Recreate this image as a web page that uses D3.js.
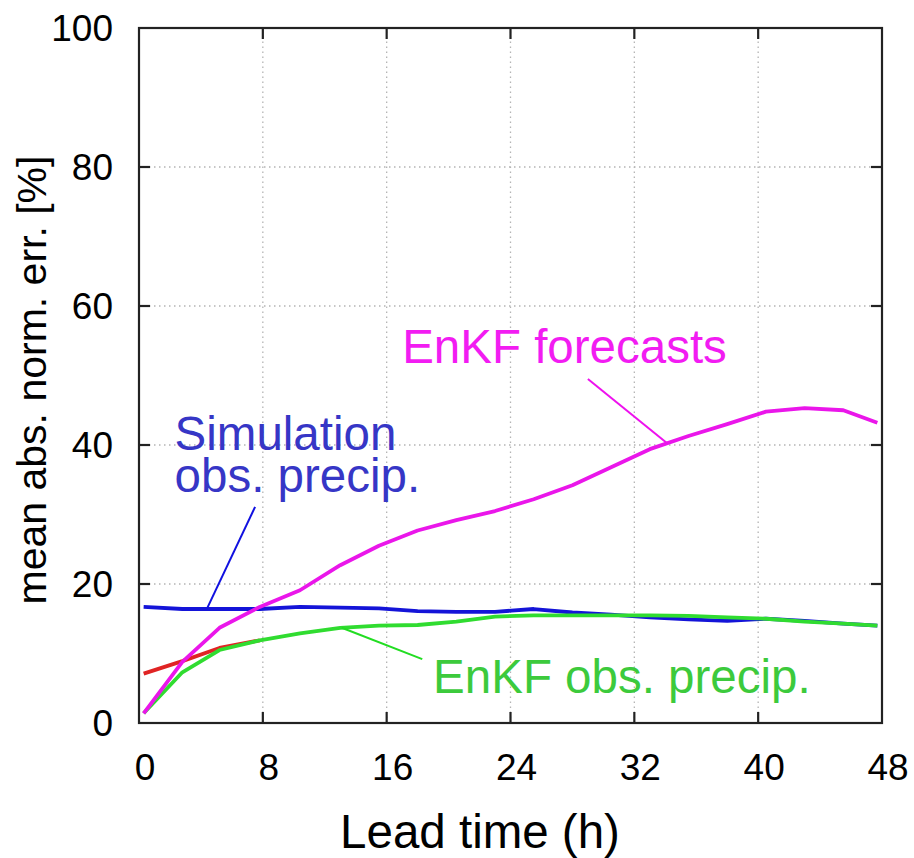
<!DOCTYPE html>
<html>
<head>
<meta charset="utf-8">
<script src="https://cdn.jsdelivr.net/npm/d3@7"></script>
<style>
    body { margin: 0; background: #fff; }
    svg { font-family: "Liberation Sans", Arial, sans-serif; }
    .grid line { stroke: #b4b4b4; stroke-width: 1.3; stroke-dasharray: 1.5,3.5; }
    .frame { fill: none; stroke: #222; stroke-width: 2.2; }
    .tick-mark { stroke: #222; stroke-width: 2.2; }
</style>
</head>
<body>
<script>
// lead time (h) at which values were read
const leadTime = [0.3, 2.8, 5.2, 7.8, 10.4, 13, 15.5, 18, 20.5, 23, 25.5, 28, 30.5, 33, 35.5, 38, 40.5, 43, 45.5, 47.7];
const enkfForecasts = [1.4, 8.8, 13.7, 16.7, 19.1, 22.7, 25.5, 27.7, 29.2, 30.5, 32.2, 34.2, 36.8, 39.4, 41.3, 43.0, 44.8, 45.3, 45.0, 43.2];
const simulationObs = [16.7, 16.4, 16.4, 16.4, 16.7, 16.6, 16.5, 16.1, 16.0, 16.0, 16.4, 15.9, 15.6, 15.2, 14.9, 14.7, 15.0, 14.7, 14.3, 14.0];
const enkfObs = [1.4, 7.3, 10.5, 11.9, 12.9, 13.7, 14.0, 14.1, 14.6, 15.3, 15.5, 15.5, 15.5, 15.5, 15.4, 15.2, 15.0, 14.6, 14.3, 14.0];
const redLeadTime = [0.3, 2.8, 5.2, 7.8];
const redValues = [7.1, 8.9, 10.8, 11.9];

const xTicks = [0, 8, 16, 24, 32, 40, 48];
const yTicks = [0, 20, 40, 60, 80, 100];

// labels: text lines, anchor (h, %), leader line ends (h, %)
const labels = [
    {lines: ["EnKF forecasts"], t: 17.0, v: 51.8, color: "#f21cf2", from: [29.0, 49.5], to: [34.1, 40.3], lineColor: "#ee11ee"},
    {lines: ["Simulation", "obs. precip."], t: 2.3, v: 39.3, color: "#3636c6", from: [7.5, 31.1], to: [4.4, 16.5], lineColor: "#1010e0"},
    {lines: ["EnKF obs. precip."], t: 19.0, v: 4.3, color: "#3cca3c", from: [13.1, 13.7], to: [18.3, 9.2], lineColor: "#22dd22"}
];

const drawChart = () => {
    let width = 914,
        height = 858,
        margin = {left: 139, right: 32, top: 28, bottom: 135},
        plotW = width - margin.left - margin.right,
        plotH = height - margin.top - margin.bottom,
        tickLen = 11;

    let svg = d3.select("body").append("svg")
        .attr("width", width)
        .attr("height", height);

    let x = d3.scaleLinear().domain([0, 48]).range([margin.left, margin.left + plotW]);
    let y = d3.scaleLinear().domain([0, 100]).range([margin.top + plotH, margin.top]);

    // dotted grid
    let grid = svg.append("g").classed("grid", true);
    grid.selectAll(".gx")
        .data(xTicks.slice(1, -1))
        .enter().append("line")
            .attr("x1", d => x(d)).attr("x2", d => x(d))
            .attr("y1", y(0)).attr("y2", y(100));
    grid.selectAll(".gy")
        .data(yTicks.slice(1, -1))
        .enter().append("line")
            .attr("x1", x(0)).attr("x2", x(48))
            .attr("y1", d => y(d)).attr("y2", d => y(d));

    // inward ticks on all four sides
    let ticks = svg.append("g");
    xTicks.slice(1, -1).forEach(t => {
        ticks.append("line").classed("tick-mark", true)
            .attr("x1", x(t)).attr("x2", x(t)).attr("y1", y(0)).attr("y2", y(0) - tickLen);
        ticks.append("line").classed("tick-mark", true)
            .attr("x1", x(t)).attr("x2", x(t)).attr("y1", y(100)).attr("y2", y(100) + tickLen);
    });
    yTicks.slice(1, -1).forEach(v => {
        ticks.append("line").classed("tick-mark", true)
            .attr("x1", x(0)).attr("x2", x(0) + tickLen).attr("y1", y(v)).attr("y2", y(v));
        ticks.append("line").classed("tick-mark", true)
            .attr("x1", x(48)).attr("x2", x(48) - tickLen).attr("y1", y(v)).attr("y2", y(v));
    });

    // tick labels
    svg.append("g").selectAll("text")
        .data(xTicks)
        .enter().append("text")
            .attr("x", d => x(d) + 6)
            .attr("y", 780)
            .attr("text-anchor", "middle")
            .style("font-size", "37px")
            .text(d => d);
    svg.append("g").selectAll("text")
        .data(yTicks)
        .enter().append("text")
            .attr("x", 113)
            .attr("y", d => y(d) + 13)
            .attr("text-anchor", "end")
            .style("font-size", "37px")
            .text(d => d);

    // axis titles
    svg.append("text")
        .attr("x", 480).attr("y", 848)
        .attr("text-anchor", "middle")
        .style("font-size", "47.5px")
        .text("Lead time (h)");
    svg.append("text")
        .attr("transform", "translate(46, 380) rotate(-90)")
        .attr("text-anchor", "middle")
        .style("font-size", "41px")
        .text("mean abs. norm. err. [%]");

    // series, drawn bottom to top
    let line = d3.line().x(d => x(d[0])).y(d => y(d[1]));
    let series = [
        {t: redLeadTime, v: redValues, color: "#e02424"},
        {t: leadTime, v: simulationObs, color: "#1414d8"},
        {t: leadTime, v: enkfObs, color: "#30dc30"},
        {t: leadTime, v: enkfForecasts, color: "#ea16ea"}
    ];
    svg.append("g").selectAll("path")
        .data(series)
        .enter().append("path")
            .attr("d", s => line(d3.zip(s.t, s.v)))
            .attr("fill", "none")
            .attr("stroke", s => s.color)
            .attr("stroke-width", 3.8)
            .attr("stroke-linejoin", "round");

    // annotations with leader lines
    labels.forEach(l => {
        svg.append("line")
            .attr("x1", x(l.from[0])).attr("y1", y(l.from[1]))
            .attr("x2", x(l.to[0])).attr("y2", y(l.to[1]))
            .attr("stroke", l.lineColor)
            .attr("stroke-width", 2);
        let txt = svg.append("text")
            .attr("x", x(l.t)).attr("y", y(l.v))
            .attr("fill", l.color)
            .style("font-size", "47.5px");
        l.lines.forEach((s, i) => {
            txt.append("tspan")
                .attr("x", x(l.t))
                .attr("dy", i === 0 ? 0 : 42)
                .text(s);
        });
    });

    // frame
    svg.append("rect").classed("frame", true)
        .attr("x", x(0)).attr("y", y(100))
        .attr("width", x(48) - x(0)).attr("height", y(0) - y(100));
};

drawChart();
</script>
</body>
</html>
